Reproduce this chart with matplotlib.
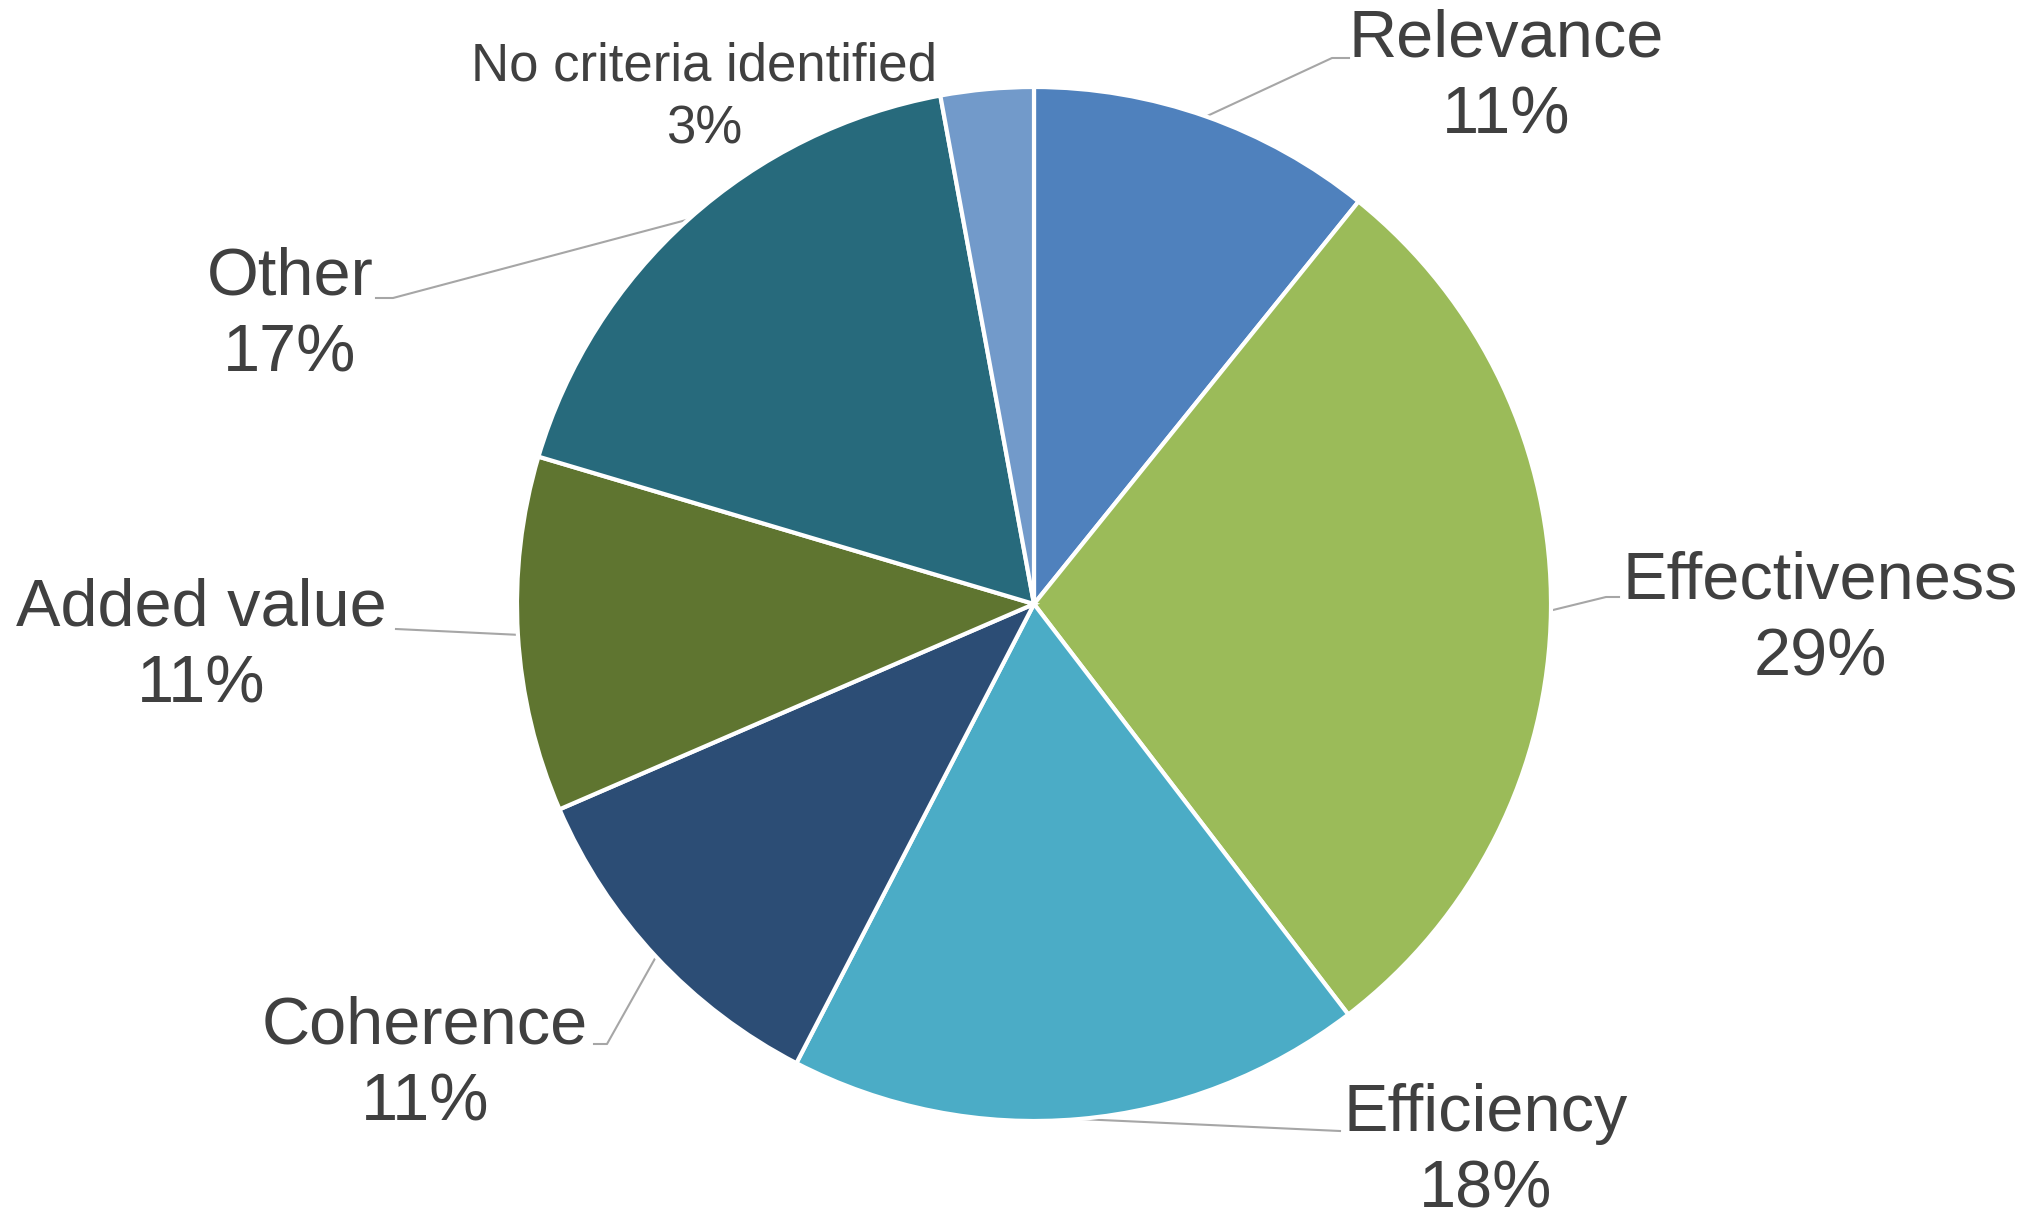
import numpy as np
import matplotlib
matplotlib.use("Agg")
import matplotlib.pyplot as plt

plt.rcParams['font.family'] = ['Liberation Sans', 'DejaVu Sans']

# data (clockwise from 12 o'clock)
categories = ["Relevance", "Effectiveness", "Efficiency", "Coherence",
              "Added value", "Other", "No criteria identified"]
shares = [10.8, 28.8, 18.0, 10.9, 11.1, 17.5, 2.9]
pct_labels = ["11%", "29%", "18%", "11%", "11%", "17%", "3%"]
colors = ["#4F81BD", "#9BBB59", "#4BACC6", "#2C4D75",
          "#5F7530", "#276A7C", "#729ACA"]

W, H = 2034, 1215
fig = plt.figure(figsize=(W / 100, H / 100), dpi=100)
ax = fig.add_axes([0, 0, 1, 1])

cx, cy, r = 1034, H - 604, 517
wedges, _ = ax.pie(shares, colors=colors, startangle=90, counterclock=False,
                   center=(cx, cy), radius=r, frame=True,
                   wedgeprops=dict(edgecolor='white', linewidth=3))
ax.set_xlim(0, W)
ax.set_ylim(0, H)
ax.set_aspect('equal')
ax.axis('off')

# label text centre (x, y from top) and leader elbow points (from top)
label_pos = [(1506, 78), (1820, 620), (1486, 1152), (425, 1065),
             (201, 647), (290, 316), (704, 98)]
elbows = [[(1332, 58), (1349, 58)],
          [(1606, 597), (1619, 597)],
          [(1340, 1131)],
          [(607, 1044), (594, 1044)],
          [(396, 629)],
          [(393, 298), (376, 298)],
          None]
sizes = [48, 48, 48, 48, 48, 48, 38]
spacing = [1.3, 1.3, 1.3, 1.3, 1.3, 1.3, 1.35]

for w, name, pct, (tx, ty), elb, fs, ls in zip(wedges, categories, pct_labels,
                                               label_pos, elbows, sizes, spacing):
    ax.text(tx, H - ty, name + "\n" + pct, ha='center', va='center',
            fontsize=fs, color='#404040', linespacing=ls)
    if elb is None:
        continue
    mid = np.deg2rad((w.theta1 + w.theta2) / 2)
    xs = [cx + r * np.cos(mid)] + [p[0] for p in elb]
    ys = [cy + r * np.sin(mid)] + [H - p[1] for p in elb]
    ax.plot(xs, ys, color='#A6A6A6', lw=1.5, zorder=0.5)

fig.savefig("out.png", dpi=100, facecolor='white')
